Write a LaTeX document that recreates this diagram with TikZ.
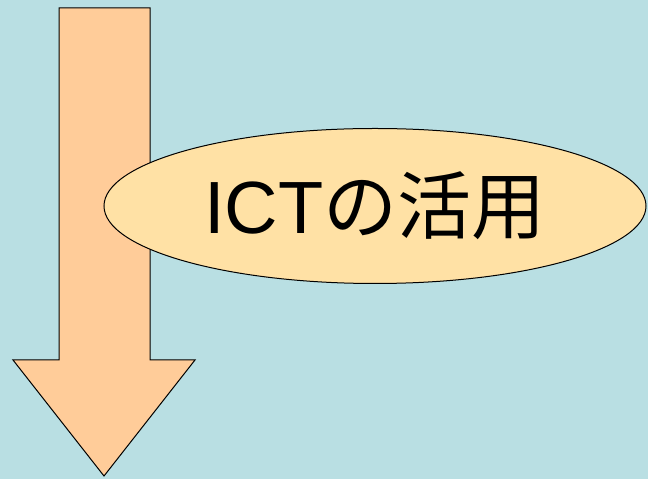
\documentclass[tikz,border=0pt]{standalone}
\usepackage{fontspec}
\setsansfont{Liberation Sans}
\newfontfamily\cjk{Noto Sans CJK JP}
\usetikzlibrary{shapes.geometric}
\definecolor{bgblue}{RGB}{185,223,227}
\definecolor{arrowpeach}{RGB}{255,204,153}
\definecolor{ellcream}{RGB}{255,225,165}
\tikzset{
  downarrow/.style={fill=arrowpeach, draw=black, line width=1pt, line join=miter},
  bubble/.style={ellipse, fill=ellcream, draw=black, line width=1pt,
    minimum width=542pt, minimum height=155pt, inner sep=0pt,
    font=\fontsize{74}{80}\selectfont}
}
\begin{document}
\begin{tikzpicture}[x=1pt, y=1pt]
            \fill[bgblue] (0, 0) rectangle (648, 479);
            \useasboundingbox (0, 0) rectangle (648, 479);

            \draw[downarrow] (59, 471) -- (150, 471) -- (150, 119) -- (195, 119)
            -- (104, 3) -- (13, 119) -- (59, 119) -- cycle;

            \node[bubble] (uses) at (375, 273) {\sffamily ICT\cjk の活用};

        \end{tikzpicture}
\end{document}
